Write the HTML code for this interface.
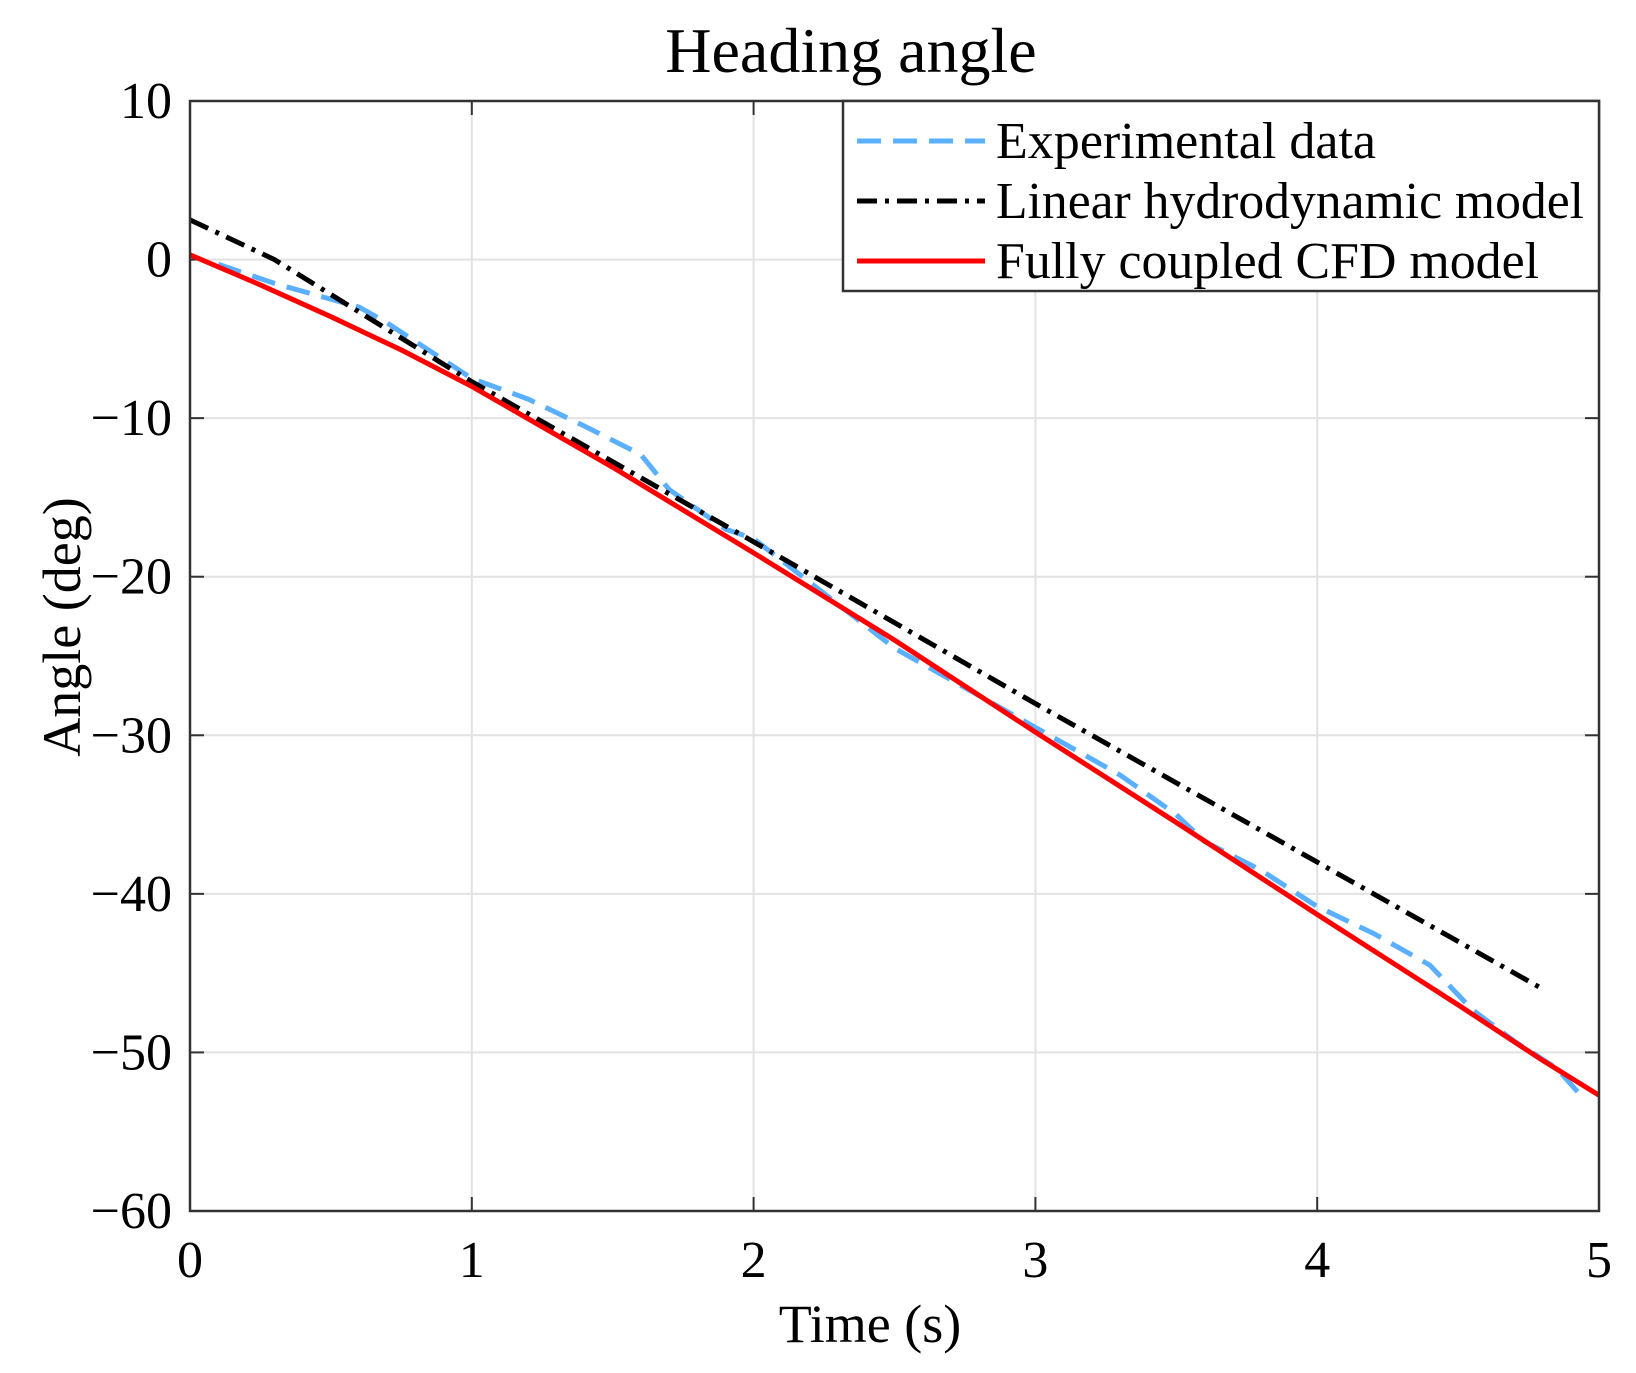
<!DOCTYPE html>
<html><head><meta charset="utf-8"><style>
body{margin:0;background:#fff}
svg text{font-family:"Liberation Serif",serif;fill:#000}
</style></head><body>
<svg id="c" width="1636" height="1368" xmlns="http://www.w3.org/2000/svg"></svg>
<script>
const xTicks=[0,1,2,3,4,5];
const yTicks=[10,0,-10,-20,-30,-40,-50,-60];
const expT=[0.1,0.3,0.6,0.7,1,1.2,1.4,1.6,1.7,1.9,2,2.5,3,3.3,3.5,3.6,3.8,4,4.2,4.4,4.55,4.7,4.85,4.95];
const expV=[-0.3,-1.5,-3,-4,-7.5,-8.8,-10.5,-12.3,-14.5,-17,-17.6,-24.5,-29.5,-32.5,-35,-36.7,-38.5,-40.8,-42.5,-44.5,-47.3,-49.3,-51,-53];
const linT=[0,0.3,1,2,3,4,4.8];
const linV=[2.5,0,-7.7,-17.8,-28,-38,-46];
const cfdT=[0,0.25,0.5,0.75,1,1.5,2,2.5,3,3.5,4,4.5,4.8,5];
const cfdV=[0.3,-1.6,-3.6,-5.7,-8,-13.1,-18.5,-24,-29.8,-35.5,-41.3,-47,-50.5,-52.7];
const L=190,R=1599,T=101,B=1211;
const xs=v=>L+(v-0)/5*(R-L);
const ys=v=>T+(10-v)/70*(B-T);
const svg=document.getElementById('c');
const NS='http://www.w3.org/2000/svg';
function mk(tag,attrs,txt){const e=document.createElementNS(NS,tag);for(const k in attrs)e.setAttribute(k,attrs[k]);if(txt!==undefined)e.textContent=txt;svg.appendChild(e);return e;}
xTicks.forEach(t=>{const g=mk('line',{x1:xs(t),x2:xs(t),y1:T,y2:B,stroke:'#e2e2e2','stroke-width':2});


const tl=mk('text',{x:xs(t),y:B+66,'font-size':52,'text-anchor':'middle'},String(t));


mk('line',{x1:xs(t),x2:xs(t),y1:B,y2:B-14,stroke:'#333','stroke-width':2});
mk('line',{x1:xs(t),x2:xs(t),y1:T,y2:T+14,stroke:'#333','stroke-width':2});
});
yTicks.forEach(t=>{const g=mk('line',{x1:L,x2:R,y1:ys(t),y2:ys(t),stroke:'#e2e2e2','stroke-width':2});


const lab=(t<0?'\u2212'+(-t):String(t));
const tl=mk('text',{x:L-18,y:ys(t)+17,'font-size':52,'text-anchor':'end'},lab);


mk('line',{x1:L,x2:L+14,y1:ys(t),y2:ys(t),stroke:'#333','stroke-width':2});
mk('line',{x1:R,x2:R-14,y1:ys(t),y2:ys(t),stroke:'#333','stroke-width':2});
});
function line(ts,vs,attrs,name){const p=ts.map((t,i)=>xs(t).toFixed(1)+','+ys(vs[i]).toFixed(1)).join(' ');
const e=mk('polyline',Object.assign({points:p,fill:'none','stroke-linejoin':'round'},attrs));

}
line(expT,expV,{stroke:'#5aafff','stroke-width':5,'stroke-dasharray':'24 12'},'experimental-data-line');
line(linT,linV,{stroke:'#000','stroke-width':5,'stroke-dasharray':'20 8 4 8'},'linear-model-line');
line(cfdT,cfdV,{stroke:'#ff0000','stroke-width':5},'cfd-model-line');
const ax=mk('rect',{x:L,y:T,width:R-L,height:B-T,fill:'none',stroke:'#333','stroke-width':2.5});


const lg=mk('rect',{x:843,y:101,width:756,height:190,fill:'#fff',stroke:'#333','stroke-width':2.5});


const items=[['Experimental data',{stroke:'#5aafff','stroke-dasharray':'24 12'}],['Linear hydrodynamic model',{stroke:'#000','stroke-dasharray':'20 8 4 8'}],['Fully coupled CFD model',{stroke:'#ff0000'}]];
items.forEach((it,i)=>{const y=141+i*60;
mk('line',Object.assign({x1:857,x2:985,y1:y,y2:y,'stroke-width':5},it[1]));
const tx=mk('text',{x:996,y:y+17,'font-size':52,textLength:i===0?380:(i===1?588:543),lengthAdjust:'spacingAndGlyphs'},it[0]);

});
const ti=mk('text',{x:851,y:72,'font-size':64,'text-anchor':'middle'},'Heading angle');


const xl=mk('text',{x:870,y:1342,'font-size':54,'text-anchor':'middle'},'Time (s)');


const yl=mk('text',{x:0,y:0,'font-size':54,'text-anchor':'middle',transform:'translate(80,627) rotate(-90)'},'Angle (deg)');


</script>
</body></html>
